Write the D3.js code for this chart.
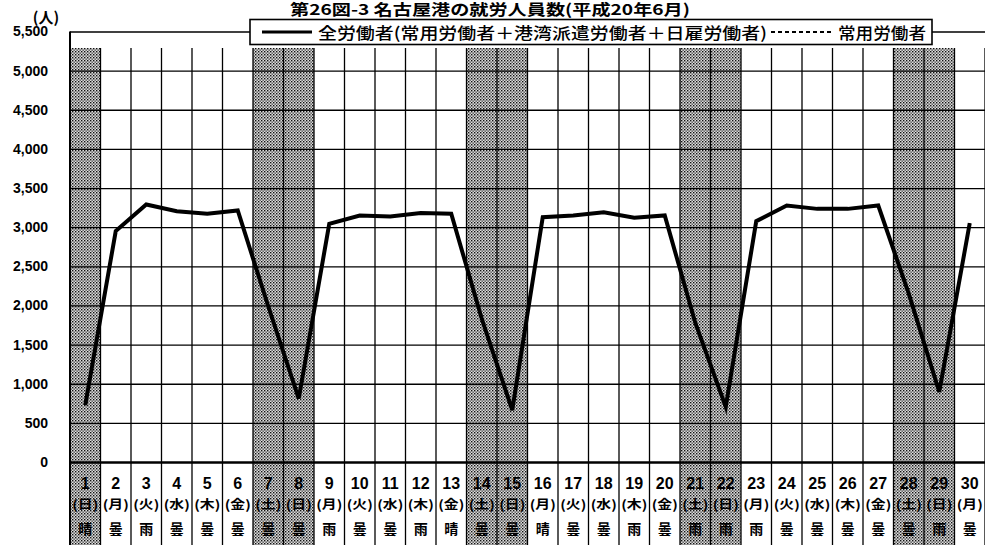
<!DOCTYPE html>
<html>
<head>
<meta charset="utf-8">
<script src="https://cdn.jsdelivr.net/npm/d3@7"></script>
<style>
  html, body { margin: 0; padding: 0; background: #fff; }
  svg { display: block; }
</style>
</head>
<body>
<svg id="chart" width="985" height="551"></svg>
<script>
// ---- data ----
const days = [1,2,3,4,5,6,7,8,9,10,11,12,13,14,15,16,17,18,19,20,21,22,23,24,25,26,27,28,29,30];
const weekdays = ["日","月","火","水","木","金","土","日","月","火","水","木","金","土","日","月","火","水","木","金","土","日","月","火","水","木","金","土","日","月"];
const weather = ["晴","曇","雨","曇","曇","曇","曇","曇","雨","曇","曇","雨","晴","曇","曇","晴","曇","曇","雨","曇","雨","雨","雨","曇","曇","曇","曇","曇","雨","曇"];
const holidays = [1,7,8,14,15,21,22,28,29];
const allWorkers = [726,2950,3290,3204,3171,3213,1990,811,3043,3149,3136,3180,3171,1830,662,3128,3149,3191,3120,3150,1780,704,3077,3277,3234,3234,3277,2150,895,3051];
const regularWorkers = [726,2950,3290,3204,3171,3213,1990,811,3043,3149,3136,3180,3171,1830,662,3128,3149,3191,3120,3150,1780,704,3077,3277,3234,3234,3277,2150,895,3051];
const yTicks = [0,500,1000,1500,2000,2500,3000,3500,4000,4500,5000,5500];
const titleText = "第26図-3  名古屋港の就労人員数(平成20年6月)";
const legendLabels = ["全労働者(常用労働者＋港湾派遣労働者＋日雇労働者)", "常用労働者"];
const unitLabel = "(人)";

// ---- layout ----
const L = 70, R = 985, T = 31.5, B = 462, gridTop = 48, tableBottom = 545;
const svg = d3.select("#chart");
const JP = "'Noto Sans CJK JP','Noto Sans CJK SC',sans-serif";
const NUM = "'Liberation Sans',Arial,sans-serif";

const x = d3.scaleBand().domain(days).range([L, R]).padding(0);
const y = d3.scaleLinear().domain([0, 5500]).range([B, T]);

// pattern for weekend shading
const defs = svg.append("defs");
const pat = defs.append("pattern").attr("id", "dots").attr("patternUnits", "userSpaceOnUse")
  .attr("width", 3).attr("height", 3);
pat.append("rect").attr("width", 3).attr("height", 3).attr("fill", "#dcdcdc");
pat.append("rect").attr("x", 0).attr("y", 0).attr("width", 1.4).attr("height", 1.4).attr("fill", "#111");
pat.append("rect").attr("x", 1.5).attr("y", 1.5).attr("width", 1.3).attr("height", 1.3).attr("fill", "#333");

// shaded columns
svg.append("g").selectAll("rect").data(holidays).join("rect")
  .attr("x", d => x(d)).attr("y", gridTop)
  .attr("width", x.bandwidth()).attr("height", tableBottom - gridTop)
  .attr("fill", "url(#dots)");

// horizontal gridlines + y labels via axis
const yAxis = d3.axisLeft(y).tickValues(yTicks).tickSize(-(R - L)).tickPadding(22)
  .tickFormat(d3.format(","));
const ga = svg.append("g").attr("transform", `translate(${L},0)`).call(yAxis);
ga.select(".domain").remove();
ga.selectAll(".tick line").attr("stroke", "#000")
  .attr("stroke-width", d => d === 0 ? 2.6 : (d === 5500 ? 1.6 : 1.3));
ga.selectAll(".tick text").attr("fill", "#000")
  .style("font-family", NUM).style("font-weight", "bold").style("font-size", "14px");

// vertical gridlines
const bounds = days.map(d => x(d)).concat([R]);
svg.append("g").selectAll("line").data(bounds).join("line")
  .attr("x1", d => d).attr("x2", d => d)
  .attr("y1", (d, i) => i === 0 ? T : gridTop).attr("y2", tableBottom)
  .attr("stroke", "#000").attr("stroke-width", (d, i) => i === 0 ? 2 : 1.3);

// lines
const line = d3.line().x((d, i) => x(days[i]) + x.bandwidth() / 2).y(d => y(d));
svg.append("path").datum(regularWorkers).attr("d", line)
  .attr("fill", "none").attr("stroke", "#000").attr("stroke-width", 2).attr("stroke-dasharray", "4,3");
svg.append("path").datum(allWorkers).attr("d", line)
  .attr("fill", "none").attr("stroke", "#000").attr("stroke-width", 4).attr("stroke-linejoin", "miter");

// x table labels
const cx = d => x(d) + x.bandwidth() / 2;
svg.append("g").selectAll("text").data(days).join("text")
  .attr("x", d => cx(d)).attr("y", 489).attr("text-anchor", "middle")
  .style("font-family", NUM).style("font-weight", "bold").style("font-size", "16px")
  .text(d => d);
svg.append("g").selectAll("text").data(days).join("text")
  .attr("x", d => cx(d)).attr("y", 509).attr("text-anchor", "middle")
  .style("font-family", JP).style("font-weight", "bold").style("font-size", "12.5px")
  .attr("textLength", 26).attr("lengthAdjust", "spacingAndGlyphs")
  .text((d, i) => "(" + weekdays[i] + ")");
svg.append("g").selectAll("text").data(days).join("text")
  .attr("x", d => cx(d)).attr("y", 534).attr("text-anchor", "middle")
  .style("font-family", JP).style("font-weight", "bold").style("font-size", "14px")
  .text((d, i) => weather[i]);

// unit label
svg.append("text").attr("x", 46).attr("y", 23).attr("text-anchor", "middle")
  .style("font-family", JP).style("font-weight", "bold").style("font-size", "15px")
  .text(unitLabel);

// title
svg.append("text").attr("x", 290).attr("y", 15)
  .attr("textLength", 400).attr("lengthAdjust", "spacingAndGlyphs")
  .style("font-family", JP).style("font-weight", "bold").style("font-size", "15px")
  .text(titleText);

// legend
const lg = svg.append("g");
lg.append("rect").attr("x", 250).attr("y", 19.5).attr("width", 682).attr("height", 25)
  .attr("fill", "#fff").attr("stroke", "#000").attr("stroke-width", 1.6);
lg.append("line").attr("x1", 262).attr("x2", 312).attr("y1", 32).attr("y2", 32)
  .attr("stroke", "#000").attr("stroke-width", 3);
lg.append("text").attr("x", 318).attr("y", 38.5)
  .attr("textLength", 449).attr("lengthAdjust", "spacingAndGlyphs")
  .style("font-family", JP).style("font-size", "16px").style("font-weight", "500")
  .text(legendLabels[0]);
lg.append("line").attr("x1", 771).attr("x2", 833).attr("y1", 32).attr("y2", 32)
  .attr("stroke", "#000").attr("stroke-width", 1.8).attr("stroke-dasharray", "4,3");
lg.append("text").attr("x", 838).attr("y", 38.5)
  .attr("textLength", 88).attr("lengthAdjust", "spacingAndGlyphs")
  .style("font-family", JP).style("font-size", "16px").style("font-weight", "500")
  .text(legendLabels[1]);
</script>
</body>
</html>
